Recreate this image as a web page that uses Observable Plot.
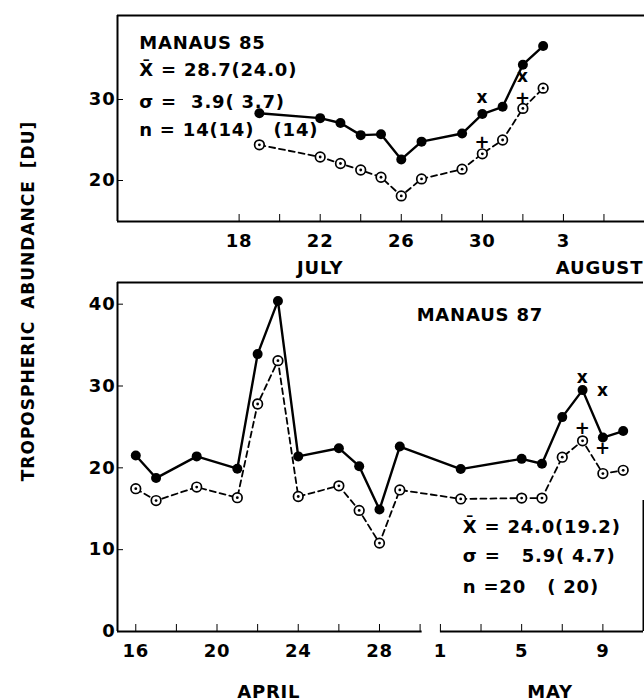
<!DOCTYPE html>
<html>
<head>
<meta charset="utf-8">
<script src="https://cdn.jsdelivr.net/npm/d3@7"></script>
<script src="https://cdn.jsdelivr.net/npm/@observablehq/plot@0.6"></script>
<style>
  body { margin: 0; background: #fff; }
  #wrap { position: relative; width: 644px; height: 700px; overflow: hidden; background: #fff; }
  #top { position: absolute; left: 0; top: 0; }
  #bot { position: absolute; left: 0; top: 280px; }
  #ylab { position: absolute; left: 28px; top: 301px; transform: translate(-50%, -50%) rotate(-90deg);
          white-space: nowrap; font-family: "DejaVu Sans", sans-serif; font-weight: bold; font-size: 17px;
          letter-spacing: 1px; word-spacing: 5px; color: #000; }
  svg text { font-weight: bold; letter-spacing: 0.8px; }
</style>
</head>
<body>
<div id="wrap">
  <div id="top"></div>
  <div id="bot"></div>
  <div id="ylab">TROPOSPHERIC ABUNDANCE [DU]</div>
</div>
<script>
// ---------- Manaus 85 (July–August; August day d is stored as 31 + d) ----------
const days85   = [19, 22, 23, 24, 25, 26, 27, 29, 30, 31, 32, 33];
const filled85 = [28.3, 27.7, 27.1, 25.6, 25.7, 22.6, 24.8, 25.8, 28.2, 29.1, 34.3, 36.6];
const open85   = [24.4, 22.9, 22.1, 21.3, 20.4, 18.1, 20.2, 21.4, 23.3, 25.0, 28.9, 31.4];
const crossDays85 = [30, 32];
const crossVals85 = [30.3, 32.8];
const plusDays85  = [30, 32];
const plusVals85  = [24.7, 30.1];
const xDomain85 = [12, 38];
const yDomain85 = [14.94, 40.37];
const yTicks85  = [20, 30];
const xTicks85      = [18, 20, 22, 24, 26, 28, 30, 32, 34, 36];
const xTickLabels85 = ["18", "", "22", "", "26", "", "30", "", "3", ""];
const notes85  = ["MANAUS 85", "X\u0304 = 28.7(24.0)", "\u03C3 =\u00a0\u00a03.9(\u00a03.7)", "n = 14(14)", "(14)"];
const noteX85  = [13.07, 13.07, 13.07, 13.07, 20.8];
const noteY85  = [36.9, 33.6, 29.7, 26.2, 26.2];
const noteAnchor85 = ["start", "start", "start", "start", "middle"];
const months85  = ["JULY", "AUGUST"];
const monthX85  = [22, 35.78];

// ---------- Manaus 87 (April–May; May day d is stored as 30 + d) ----------
const days87   = [16, 17, 19, 21, 22, 23, 24, 26, 27, 28, 29, 32, 35, 36, 37, 38, 39, 40];
const filled87 = [21.5, 18.75, 21.4, 19.9, 33.9, 40.4, 21.4, 22.4, 20.2, 14.9, 22.6, 19.85, 21.1, 20.5, 26.2, 29.5, 23.7, 24.5];
const open87   = [17.45, 16.0, 17.65, 16.35, 27.8, 33.1, 16.5, 17.8, 14.8, 10.8, 17.3, 16.2, 16.3, 16.3, 21.3, 23.3, 19.3, 19.7];
const crossDays87 = [38, 39];
const crossVals87 = [31.05, 29.4];
const plusDays87  = [38, 39];
const plusVals87  = [24.8, 22.35];
const xDomain87 = [15.1, 41];
const yDomain87 = [0, 42.65];
const yTicks87  = [0, 10, 20, 30, 40];
const xTicks87      = [16, 18, 20, 22, 24, 26, 28, 30, 31, 33, 35, 37, 39];
const xTickLabels87 = ["16", "", "20", "", "24", "", "28", "", "1", "", "5", "", "9"];
const axisSegments87 = [[15.1, 30.1], [31, 41]];
const notes87  = ["MANAUS 87", "X\u0304 = 24.0(19.2)", "\u03C3 =\u00a0\u00a0\u00a05.9(\u00a04.7)", "n =20\u00a0\u00a0\u00a0(\u00a020)"];
const noteX87  = [29.83, 32.1, 32.1, 32.1];
const noteY87  = [38.6, 12.8, 9.14, 5.47];
const months87 = ["APRIL", "MAY"];
const monthX87 = [22.55, 36.4];

const pts = (xs, ys) => xs.map((x, i) => ({x, y: ys[i]}));
const style = {fontFamily: '"DejaVu Sans", sans-serif', fontSize: "18px", fontWeight: "bold",
               background: "transparent", overflow: "visible", color: "black"};

function panel({xDomain, yDomain, yTicks, xTicks, xTickLabels, days, filled, open,
                crossDays, crossVals, plusDays, plusVals, notes, noteX, noteY, noteAnchor,
                months, monthX, monthDy, height, marginTop, marginBottom, marginRight,
                axisSegments, rightBorder}) {
  const labelMap = new Map(xTicks.map((d, i) => [d, xTickLabels[i]]));
  const F = pts(days, filled), O = pts(days, open);
  const noteData = notes.map((t, i) => ({t, x: noteX[i], y: noteY[i], a: noteAnchor ? noteAnchor[i] : "start"}));
  const marks = [
    Plot.ruleY([yDomain[1]], {strokeWidth: 2}),
    Plot.ruleX([xDomain[0]], {strokeWidth: 2}),
  ];
  if (axisSegments) {
    marks.push(Plot.ruleY(axisSegments, {y: () => yDomain[0], x1: d => d[0], x2: d => d[1], strokeWidth: 2}));
  } else {
    marks.push(Plot.ruleY([yDomain[0]], {strokeWidth: 2}));
  }
  if (rightBorder) {
    marks.push(Plot.ruleX([xDomain[1]], {y1: rightBorder[0], y2: rightBorder[1], strokeWidth: 2}));
  }
  marks.push(
    Plot.line(O, {x: "x", y: "y", stroke: "black", strokeWidth: 1.8, strokeDasharray: "6,4"}),
    Plot.line(F, {x: "x", y: "y", stroke: "black", strokeWidth: 2.4}),
    Plot.dot(O, {x: "x", y: "y", r: 4.8, fill: "white", stroke: "black", strokeWidth: 1.7}),
    Plot.dot(O, {x: "x", y: "y", r: 1.4, fill: "black"}),
    Plot.dot(F, {x: "x", y: "y", r: 5, fill: "black"}),
    Plot.text(pts(crossDays, crossVals), {x: "x", y: "y", text: () => "x", fontSize: 17, fontWeight: "bold"}),
    Plot.text(pts(plusDays, plusVals), {x: "x", y: "y", text: () => "+", fontSize: 18, fontWeight: "bold"}),
    Plot.text(noteData.filter(d => d.a === "start"), {x: "x", y: "y", text: "t", textAnchor: "start", fontSize: 18, fontWeight: "bold"}),
    Plot.text(noteData.filter(d => d.a !== "start"), {x: "x", y: "y", text: "t", textAnchor: "middle", fontSize: 18, fontWeight: "bold"}),
    Plot.text(months, {x: (d, i) => monthX[i], text: d => d, frameAnchor: "bottom", dy: monthDy, fontSize: 18, fontWeight: "bold"})
  );
  return Plot.plot({
    width: 644, height, marginLeft: 117, marginRight, marginTop, marginBottom,
    style,
    x: {domain: xDomain, ticks: xTicks, tickFormat: d => labelMap.get(d) ?? "", tickSize: -7, tickPadding: 20, label: null},
    y: {domain: yDomain, ticks: yTicks, tickSize: -6, tickPadding: 8, label: null},
    marks
  });
}

document.getElementById("top").appendChild(panel({
  xDomain: xDomain85, yDomain: yDomain85, yTicks: yTicks85, xTicks: xTicks85, xTickLabels: xTickLabels85,
  days: days85, filled: filled85, open: open85,
  crossDays: crossDays85, crossVals: crossVals85, plusDays: plusDays85, plusVals: plusVals85,
  notes: notes85, noteX: noteX85, noteY: noteY85, noteAnchor: noteAnchor85,
  months: months85, monthX: monthX85, monthDy: 52,
  height: 280, marginTop: 15, marginBottom: 59, marginRight: 0
}));

document.getElementById("bot").appendChild(panel({
  xDomain: xDomain87, yDomain: yDomain87, yTicks: yTicks87, xTicks: xTicks87, xTickLabels: xTickLabels87,
  days: days87, filled: filled87, open: open87,
  crossDays: crossDays87, crossVals: crossVals87, plusDays: plusDays87, plusVals: plusVals87,
  notes: notes87, noteX: noteX87, noteY: noteY87,
  months: months87, monthX: monthX87, monthDy: 66,
  height: 420, marginTop: 2, marginBottom: 69, marginRight: 1,
  axisSegments: axisSegments87, rightBorder: [0, 16]
}));
</script>
</body>
</html>
